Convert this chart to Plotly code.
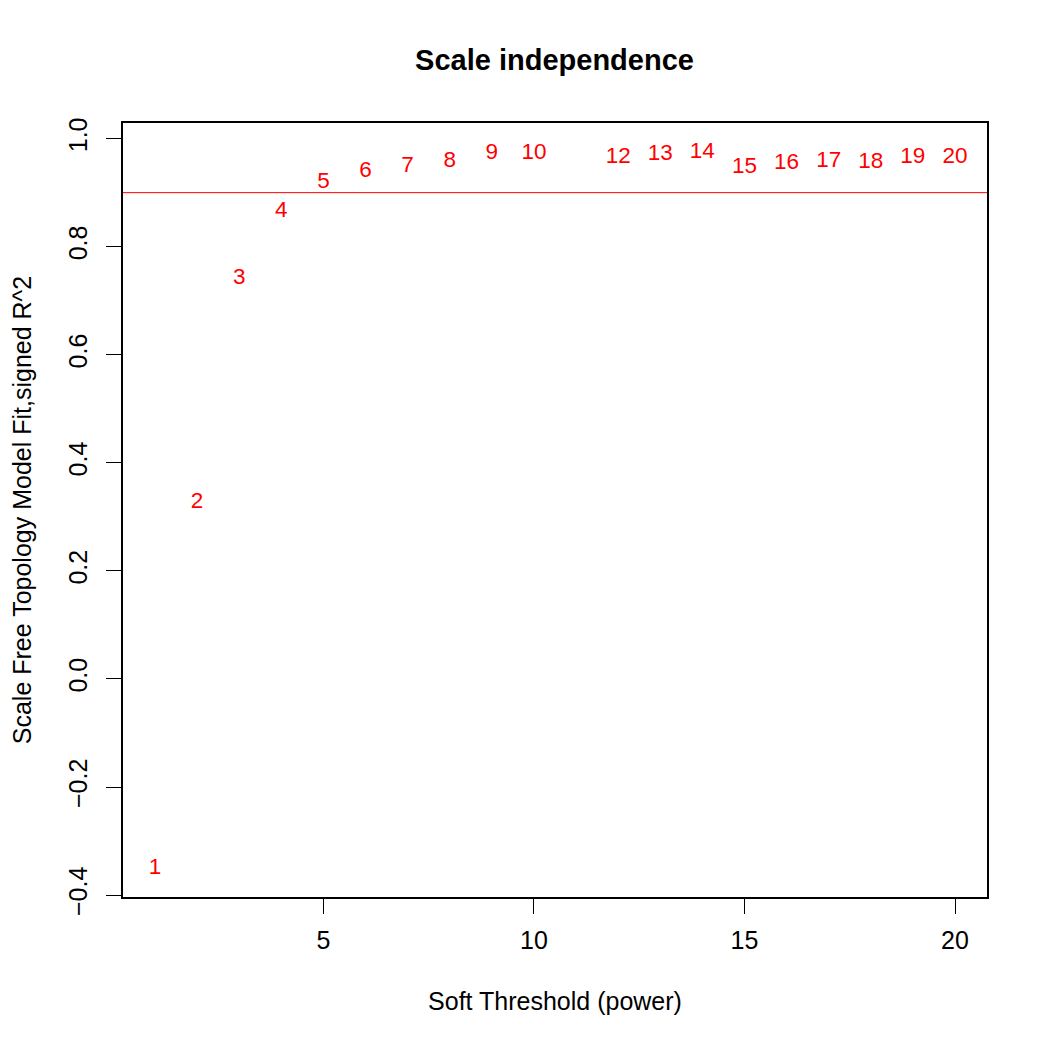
import plotly.graph_objects as go

# Data
powers = [1, 2, 3, 4, 5, 6, 7, 8, 9, 10, 12, 13, 14, 15, 16, 17, 18, 19, 20]
signed_r2 = [-0.351, 0.326, 0.741, 0.866, 0.919, 0.940, 0.948, 0.957, 0.972, 0.973,
             0.966, 0.970, 0.975, 0.946, 0.954, 0.958, 0.956, 0.966, 0.965]
labels = [str(p) for p in powers]
x_ticks = [5, 10, 15, 20]
y_ticks = [-0.4, -0.2, 0.0, 0.2, 0.4, 0.6, 0.8, 1.0]
y_tick_text = ["\u22120.4", "\u22120.2", "0.0", "0.2", "0.4", "0.6", "0.8", "1.0"]
cutoff = 0.90

FONT = "Liberation Sans, Arial, Helvetica, sans-serif"

fig = go.Figure()
fig.add_trace(go.Scatter(
    x=powers, y=signed_r2, text=labels, mode="text",
    textposition="middle center",
    textfont=dict(family=FONT, size=22.5, color="#ff0000"),
    hoverinfo="skip", showlegend=False,
))

fig.add_hline(y=cutoff, line=dict(color="#ff0000", width=1))

# the page body adds an 8px offset, so the figure is 1042 px and shifted margins
fig.update_layout(
    width=1042, height=1042,
    margin=dict(l=115, r=63, t=115, b=153, pad=0),
    paper_bgcolor="white", plot_bgcolor="white",
    font=dict(family=FONT, size=25, color="black"),
    title=dict(text="<b>Scale independence</b>", x=0.5245, xanchor="center",
               y=1 - 52 / 1042, yanchor="middle",
               font=dict(family=FONT, size=29, color="black")),
    showlegend=False,
)

fig.update_xaxes(
    range=[0.24, 20.76], tickvals=x_ticks, ticktext=[str(t) for t in x_ticks],
    showgrid=False, zeroline=False,
    showline=True, mirror=True, linecolor="black", linewidth=1.5,
    ticks="outside", ticklen=15, tickwidth=1, tickcolor="black",
    ticklabelstandoff=5,
    tickfont=dict(family=FONT, size=25, color="black"),
    title=dict(text="Soft Threshold (power)", font=dict(family=FONT, size=25, color="black"),
               standoff=40),
    automargin=False,
)
fig.update_yaxes(
    range=[-0.4035, 1.0289], tickvals=y_ticks, ticktext=y_tick_text,
    tickangle=-90,
    showgrid=False, zeroline=False,
    showline=True, mirror=True, linecolor="black", linewidth=1.5,
    ticks="outside", ticklen=15, tickwidth=1, tickcolor="black",
    ticklabelstandoff=9,
    tickfont=dict(family=FONT, size=25, color="black"),
    title=dict(text="Scale Free Topology Model Fit,signed R^2",
               font=dict(family=FONT, size=25, color="black"), standoff=42),
    automargin=False,
)

fig.write_html("out.html")
